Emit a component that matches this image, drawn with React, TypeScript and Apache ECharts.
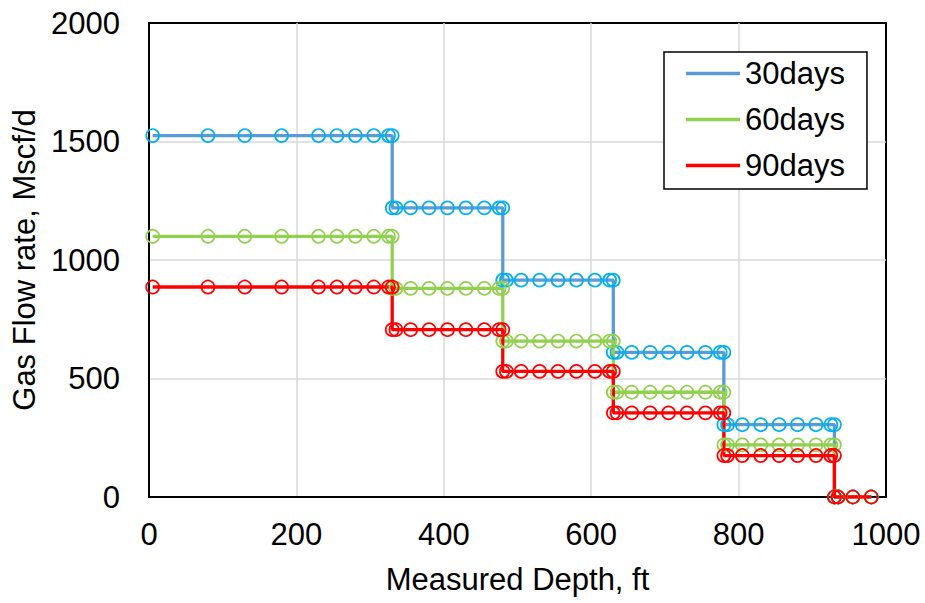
import React, { useEffect, useRef } from "react";
import * as echarts from "echarts";

const depth = [
  5, 80, 130, 180, 230, 255, 280, 305, 325, 330,
  330, 335, 355, 380, 405, 430, 455, 475, 480,
  480, 485, 505, 530, 555, 580, 605, 625, 630,
  630, 635, 655, 680, 705, 730, 755, 775, 780,
  780, 785, 805, 830, 855, 880, 905, 925, 930,
  930, 935, 955, 980,
];

const rate30 = [
  1525, 1525, 1525, 1525, 1525, 1525, 1525, 1525, 1525, 1525,
  1220, 1220, 1220, 1220, 1220, 1220, 1220, 1220, 1220,
  915, 915, 915, 915, 915, 915, 915, 915, 915,
  610, 610, 610, 610, 610, 610, 610, 610, 610,
  305, 305, 305, 305, 305, 305, 305, 305, 305,
  0, 0, 0, 0,
];

const rate60 = [
  1100, 1100, 1100, 1100, 1100, 1100, 1100, 1100, 1100, 1100,
  880, 880, 880, 880, 880, 880, 880, 880, 880,
  658, 658, 658, 658, 658, 658, 658, 658, 658,
  442, 442, 442, 442, 442, 442, 442, 442, 442,
  220, 220, 220, 220, 220, 220, 220, 220, 220,
  0, 0, 0, 0,
];

const rate90 = [
  886, 886, 886, 886, 886, 886, 886, 886, 886, 886,
  706, 706, 706, 706, 706, 706, 706, 706, 706,
  530, 530, 530, 530, 530, 530, 530, 530, 530,
  355, 355, 355, 355, 355, 355, 355, 355, 355,
  175, 175, 175, 175, 175, 175, 175, 175, 175,
  0, 0, 0, 0,
];

const seriesNames = ["30days", "60days", "90days"];
const lineColors = ["#5B9BD5", "#92D050", "#FF0000"];
const markerColors = ["#00B0F0", "#92D050", "#FF0000"];
const seriesRates = [rate30, rate60, rate90];

const FONT = "'Liberation Sans', Arial, sans-serif";

export default function App() {
  const ref = useRef<HTMLDivElement>(null);

  useEffect(() => {
    if (!ref.current) return;
    const chart = echarts.init(ref.current, undefined, { renderer: "svg" });
    const series = seriesNames.map((name, i) => ({
      name,
      type: "line",
      data: depth.map((d, k) => [d, seriesRates[i][k]]),
      symbol: "circle",
      symbolSize: 13,
      showAllSymbol: true,
      lineStyle: { color: lineColors[i], width: 3.3 },
      itemStyle: { color: "rgba(0,0,0,0)", borderColor: markerColors[i], borderWidth: 1.7 },
      emphasis: { disabled: true },
    }));
    chart.setOption({
      animation: false,
      textStyle: { fontFamily: FONT },
      grid: {
        left: 149,
        right: 39,
        top: 23,
        bottom: 106,
        show: true,
        borderColor: "#000",
        borderWidth: 2,
        containLabel: false,
        outerBoundsMode: "none",
      },
      legend: {
        show: true,
        orient: "vertical",
        left: 664,
        top: 52,
        padding: [6, 22, 8, 22],
        borderColor: "#000",
        borderWidth: 1.5,
        backgroundColor: "#fff",
        itemWidth: 54,
        itemHeight: 3.5,
        itemGap: 15,
        icon: "rect",
        textStyle: { fontSize: 31, fontFamily: FONT, color: "#000", lineHeight: 31 },
        data: seriesNames.map((n, i) => ({
          name: n,
          icon: "rect",
          itemStyle: { color: lineColors[i], borderWidth: 0 },
        })),
      },
      xAxis: {
        type: "value",
        min: 0,
        max: 1000,
        interval: 200,
        name: "Measured Depth, ft",
        nameLocation: "middle",
        nameGap: 67,
        nameTextStyle: { fontSize: 31, color: "#000", fontFamily: FONT },
        axisLine: { show: true, lineStyle: { color: "#000", width: 2 } },
        axisTick: { show: false },
        axisLabel: {
          fontSize: 31,
          color: "#000",
          margin: 22,
          fontFamily: FONT,
          formatter: (v: number) => String(v),
        },
        splitLine: {
          show: true,
          showMinLine: false,
          showMaxLine: false,
          lineStyle: { color: "#D9D9D9", width: 1.5 },
        },
      },
      yAxis: {
        type: "value",
        min: 0,
        max: 2000,
        interval: 500,
        name: "Gas Flow rate, Mscf/d",
        nameLocation: "middle",
        nameGap: 108,
        nameTextStyle: { fontSize: 31, color: "#000", fontFamily: FONT },
        axisLine: { show: true, lineStyle: { color: "#000", width: 2 } },
        axisTick: { show: false },
        axisLabel: {
          fontSize: 31,
          color: "#000",
          margin: 29,
          fontFamily: FONT,
          formatter: (v: number) => String(v),
        },
        splitLine: {
          show: true,
          showMinLine: false,
          showMaxLine: false,
          lineStyle: { color: "#D9D9D9", width: 1.5 },
        },
      },
      series,
    });
    return () => chart.dispose();
  }, []);

  return (
    <div
      ref={ref}
      style={{ position: "fixed", left: 0, top: 0, width: 925, height: 603, background: "#fff" }}
    />
  );
}
